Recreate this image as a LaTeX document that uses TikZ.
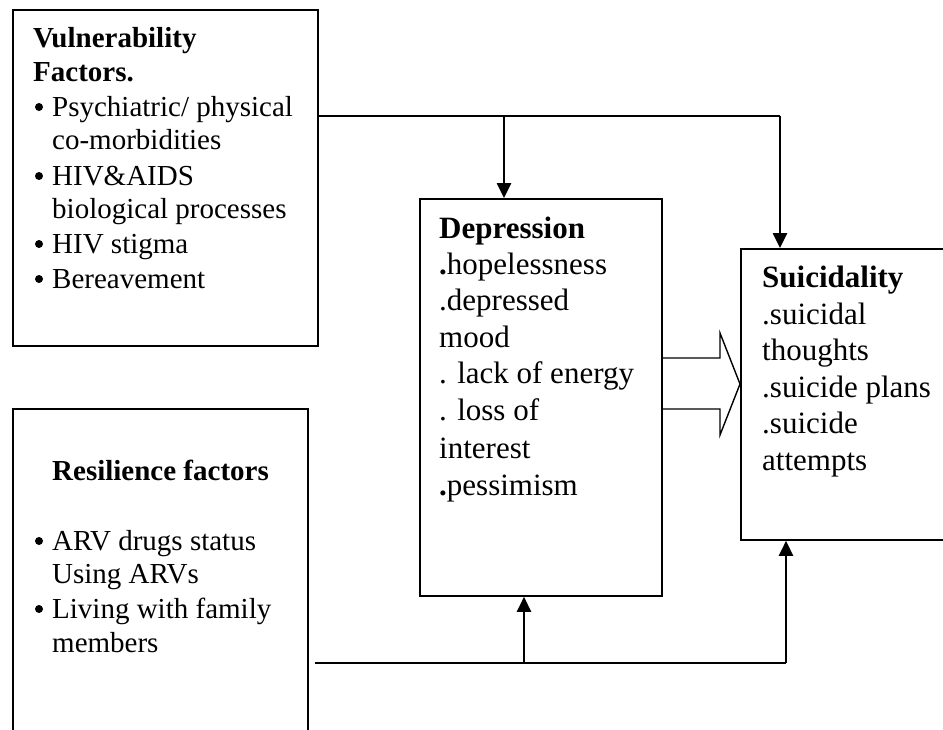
\documentclass[tikz,border=0pt]{standalone}
\usepackage{fontspec}
\setmainfont{Liberation Serif}
\usetikzlibrary{arrows.meta,calc}
\begin{document}
\begin{tikzpicture}[x=1pt,y=-1pt,
  box/.style={draw,line width=1.8pt,inner sep=0pt,anchor=north west},
  txt/.style={anchor=base west,inner sep=0pt,font=\fontsize{29}{35}\selectfont},
  hd/.style={anchor=base west,inner sep=0pt,font=\fontsize{29}{35}\selectfont\bfseries},
  btxt/.style={anchor=base west,inner sep=0pt,font=\fontsize{31}{37}\selectfont},
  bhd/.style={anchor=base west,inner sep=0pt,font=\fontsize{31}{37}\selectfont\bfseries},
  dot/.style={circle,fill,inner sep=0pt,minimum size=8pt},
  conn/.style={line width=1.7pt},
  arr/.style={line width=2.6pt,-{Triangle[length=15pt,width=14pt]}},
  blockarr/.style={line width=1.4pt}]
\useasboundingbox (0,0) rectangle (943,729);
\clip (0,0) rectangle (943,729);

% boxes
\node[box,minimum width=305pt,minimum height=336pt] (vul) at (12,9) {};
\node[box,minimum width=295pt,minimum height=400pt] (res) at (12,408) {};
\node[box,minimum width=242pt,minimum height=397pt] (dep) at (419,198) {};
\node[box,minimum width=260pt,minimum height=291pt] (sui) at (740,248) {};

% Vulnerability text
\node[hd] (v1) at (33,47) {Vulnerability};
\node[hd] (v2) at (33,81) {Factors.};
\node[dot] (vb1) at (39,107) {};
\node[txt] (v3) at (52,116) {Psychiatric/ physical};
\node[txt] (v4) at (52,149) {co-morbidities};
\node[dot] (vb2) at (39,176) {};
\node[txt] (v5) at (52,185) {HIV\&AIDS};
\node[txt] (v6) at (52,218) {biological processes};
\node[dot] (vb3) at (39,244) {};
\node[txt] (v7) at (52,253) {HIV stigma};
\node[dot] (vb4) at (39,279) {};
\node[txt] (v8) at (52,288) {Bereavement};

% Resilience text
\node[hd] (r1) at (52,480) {Resilience factors};
\node[dot] (rb1) at (39,541) {};
\node[txt] (r2) at (52,550) {ARV drugs status};
\node[txt] (r3) at (52,583) {Using ARVs};
\node[dot] (rb2) at (39,609) {};
\node[txt] (r4) at (52,618) {Living with family};
\node[txt] (r5) at (52,652) {members};

% Depression text
\node[bhd] (d1) at (439,238) {Depression};
\node[btxt] (d2) at (439,274) {\textbf{.}hopelessness};
\node[btxt] (d3) at (439,310) {.depressed};
\node[btxt] (d4) at (439,347) {mood};
\node[btxt] (d5) at (439,383) {. lack of energy};
\node[btxt] (d6) at (439,420) {. loss of};
\node[btxt] (d7) at (439,458) {interest};
\node[btxt] (d8) at (439,495) {\textbf{.}pessimism};

% Suicidality text
\node[bhd] (s1) at (762,287) {Suicidality};
\node[btxt] (s2) at (762,324) {.suicidal};
\node[btxt] (s3) at (762,360) {thoughts};
\node[btxt] (s4) at (762,397) {.suicide plans};
\node[btxt] (s5) at (762,433) {.suicide};
\node[btxt] (s6) at (762,470) {attempts};

% top connectors
\coordinate (tl) at (780,116);
\coordinate (ta) at (504,116);
\draw[conn] (vul.east |- tl) -- (tl);
\draw[arr] (ta) -- (ta |- dep.north);
\draw[arr] (tl) -- (tl |- sui.north);

% bottom connectors
\coordinate (bl) at (315,663);
\coordinate (br) at (786,663);
\coordinate (ba) at (524,663);
\draw[conn] (bl) -- (br);
\draw[arr] (ba) -- (ba |- dep.south);
\draw[arr] (br) -- (br |- sui.south);

% block arrow from Depression to Suicidality
\draw[blockarr] (dep.east |- 0,358) -- (720,358) -- (720,333) -- (sui.west |- 0,384)
  -- (720,435) -- (720,409) -- (dep.east |- 0,409);
\end{tikzpicture}
\end{document}
